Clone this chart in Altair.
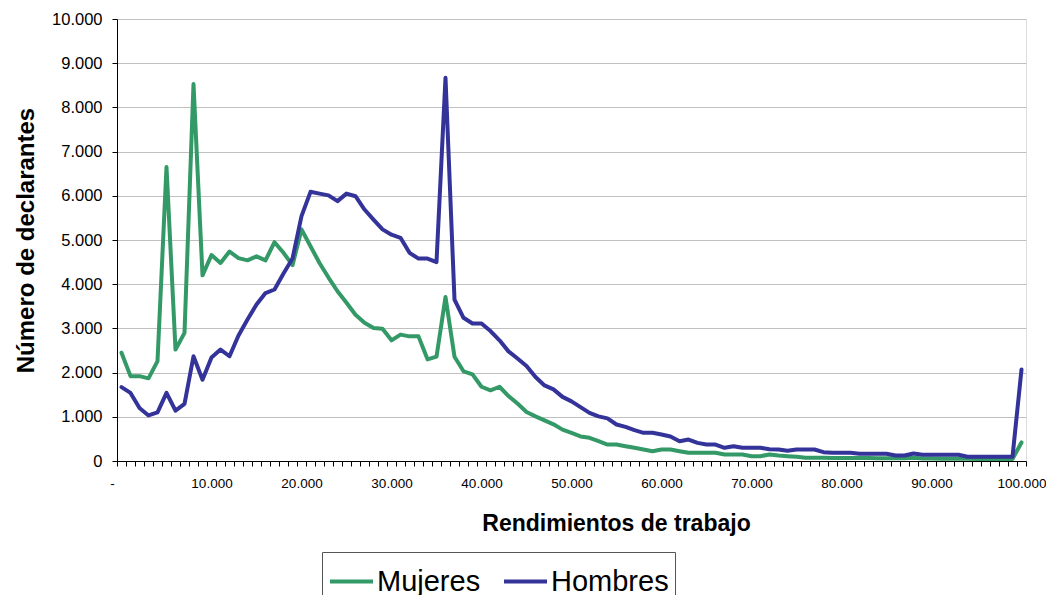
import altair as alt
import pandas as pd

# Category values of "Rendimientos de trabajo" (one point every 1.000)
rendimientos = list(range(0, 101000, 1000))

mujeres = [
    2450, 1920, 1920, 1870, 2260, 6650, 2520, 2900, 8530, 4200,
    4660, 4480, 4740, 4590, 4540, 4630, 4540, 4950, 4710, 4430,
    5240, 4860, 4480, 4150, 3840, 3580, 3310, 3130, 3010, 2990,
    2730, 2860, 2820, 2820, 2300, 2360, 3710, 2360, 2030, 1960,
    1680, 1600, 1680, 1470, 1300, 1110, 1010, 920, 830, 710,
    635, 555, 524, 448, 373, 373, 335, 299, 260, 222,
    260, 260, 222, 185, 185, 185, 185, 147, 147, 147,
    109, 109, 147, 124, 109, 94, 75, 72, 72, 70,
    70, 68, 66, 66, 64, 62, 60, 60, 72, 55,
    55, 52, 52, 50, 50, 48, 48, 46, 45, 45,
    420,
]

hombres = [
    1670, 1540, 1200, 1030, 1100, 1540, 1140, 1290, 2370, 1840,
    2340, 2520, 2370, 2840, 3200, 3540, 3800, 3880, 4240, 4580,
    5540, 6090, 6050, 6010, 5880, 6050, 5990, 5690, 5460, 5240,
    5120, 5050, 4710, 4580, 4580, 4500, 8670, 3650, 3240, 3110,
    3110, 2940, 2730, 2480, 2320, 2150, 1900, 1710, 1620, 1450,
    1350, 1220, 1090, 1010, 965, 826, 773, 697, 638, 638,
    600, 555, 448, 486, 410, 373, 373, 299, 335, 299,
    299, 299, 265, 262, 230, 262, 262, 260, 200, 185,
    185, 185, 163, 163, 163, 163, 124, 124, 170, 140,
    140, 140, 140, 140, 95, 95, 95, 95, 95, 95,
    2070,
]

series_names = ["Mujeres", "Hombres"]
series_colors = ["#339966", "#333399"]

df = pd.concat([
    pd.DataFrame({"x": rendimientos, "v": mujeres, "serie": "Mujeres", "orden": 0}),
    pd.DataFrame({"x": rendimientos, "v": hombres, "serie": "Hombres", "orden": 1}),
], ignore_index=True)

FONT = "Liberation Sans"

x_tick_values = [-500 + 1000 * k for k in range(102)]
x_label_expr = (
    "((datum.value + 500) % 10000 == 0) ? "
    "((datum.value + 500) == 0 ? '-' : "
    "replace(format(datum.value + 500, ','), ',', '.')) : ''"
)
y_label_expr = "replace(format(datum.value, ','), ',', '.')"

chart = alt.Chart(df).mark_line(strokeWidth=4, strokeJoin="round", strokeCap="round").encode(
    x=alt.X(
        "x:Q",
        scale=alt.Scale(domain=[-500, 100500], nice=False, zero=False),
        axis=alt.Axis(
            values=x_tick_values,
            labelExpr=x_label_expr,
            labelOffset={"condition": {"test": "datum.value == -500", "value": -5}, "value": 4.5},
            labelFlush=False,
            labelOverlap=False,
            labelBound=False,
            tickSize=5,
            labelPadding=10,
            labelFontSize=13.5,
            labelFont=FONT,
            labelColor="black",
            grid=False,
            domainColor="black",
            tickColor="black",
            title="Rendimientos de trabajo",
            titleFont=FONT,
            titleFontSize=23,
            titleFontWeight="bold",
            titleColor="black",
            titleX=499,
            titleY=69,
            titleAlign="center",
            titleBaseline="alphabetic",
        ),
    ),
    y=alt.Y(
        "v:Q",
        scale=alt.Scale(domain=[0, 10000], nice=False),
        axis=alt.Axis(
            values=list(range(0, 10001, 1000)),
            labelExpr=y_label_expr,
            tickSize=5,
            labelPadding=10,
            labelFontSize=16.5,
            labelFont=FONT,
            labelColor="black",
            grid=True,
            gridColor="#c0c0c0",
            domainColor="black",
            tickColor="black",
            title="Número de declarantes",
            titleFont=FONT,
            titleFontSize=24,
            titleFontWeight="bold",
            titleColor="black",
            titleX=-91,
            titleY=221,
            titleAngle=270,
            titleAlign="center",
            titleBaseline="middle",
        ),
    ),
    color=alt.Color(
        "serie:N",
        scale=alt.Scale(domain=series_names, range=series_colors),
        legend=alt.Legend(
            title=None,
            orient="none",
            legendX=205,
            legendY=533,
            direction="horizontal",
            gridAlign="none",
            symbolType="stroke",
            symbolSize=1849,
            symbolStrokeWidth=4,
            labelFont=FONT,
            labelFontSize=29,
            labelColor="black",
            labelOffset=2,
            columnPadding=15,
            padding=6,
            strokeColor="#555555",
            fillColor="white",
        ),
    ),
    order=alt.Order("orden:Q"),
    detail="serie:N",
).properties(
    width=909,
    height=442,
    padding={"left": 109, "top": 11, "right": 20, "bottom": 134},
    autosize=alt.AutoSizeParams(type="none"),
).configure_view(
    stroke="#888888",
    strokeWidth=1,
).configure(background="white")

chart.save("out.html", embed_options={"renderer": "svg", "actions": False})
